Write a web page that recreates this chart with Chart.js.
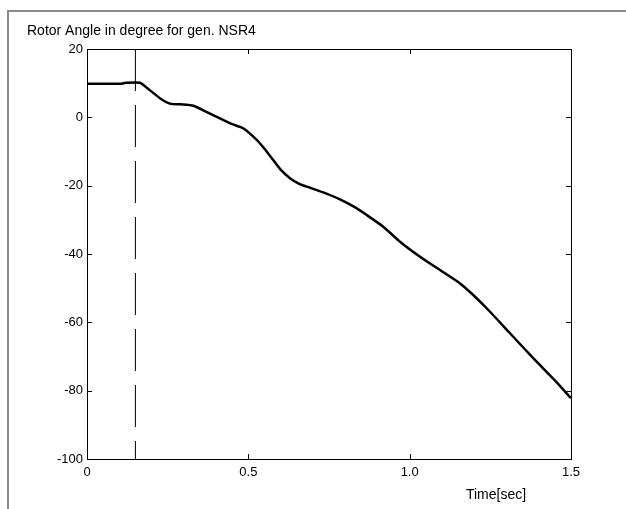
<!DOCTYPE html>
<html>
<head>
<meta charset="utf-8">
<script src="https://cdn.jsdelivr.net/npm/chart.js@4/dist/chart.umd.min.js"></script>
<style>
  html, body { margin: 0; padding: 0; background: #fff; }
  #wrap { position: relative; width: 626px; height: 509px; overflow: hidden; }
  #frame { position: absolute; left: 7px; top: 10px; width: 700px; height: 600px;
           border-left: 2px solid #8a8a8a; border-top: 2px solid #8a8a8a; }
  canvas { position: absolute; left: 0; top: 0; }
</style>
</head>
<body>
<div id="wrap">
  <div id="frame"></div>
  <canvas id="chart-rotor" width="626" height="509"></canvas>
</div>
<script>
// rotor angle
const timeSec = [0, 0.05, 0.10, 0.11, 0.12, 0.164, 0.19, 0.226, 0.257, 0.29, 0.33, 0.37, 0.412, 0.45,
  0.484, 0.526, 0.55, 0.577, 0.60, 0.629, 0.655, 0.681, 0.73, 0.784, 0.83, 0.867, 0.918, 0.97,
  1.032, 1.094, 1.156, 1.197, 1.249, 1.311, 1.383, 1.45, 1.5];
const angleDeg = [9.8, 9.8, 9.8, 9.9, 10.1, 10.1, 8.3, 5.6, 4.0, 3.8, 3.4, 1.6, -0.3, -2.0,
  -3.2, -6.6, -9.2, -12.5, -15.3, -17.8, -19.3, -20.3, -21.9, -24.0, -26.3, -28.6, -32.0, -36.4,
  -40.8, -44.7, -48.6, -52.0, -56.9, -63.2, -70.5, -77.0, -82.2];
const faultTime = 0.15;
const xTicks = [0, 0.5, 1, 1.5];
const yTicks = [-100, -80, -60, -40, -20, 0, 20];

const FONT = 'Liberation Sans, Arial, sans-serif';

const frameAxes = {
	id: 'frameAxes',
	afterDraw(chart){
		const {ctx, chartArea: a, scales} = chart;
		ctx.save();
		ctx.strokeStyle = '#000';
		ctx.lineWidth = 1;
		ctx.strokeRect(a.left + 0.5, a.top + 0.5, a.right - a.left, a.bottom - a.top);
		ctx.beginPath();
		xTicks.forEach(v => {
			const x = Math.round(scales.x.getPixelForValue(v)) + 0.5;
			ctx.moveTo(x, a.bottom); ctx.lineTo(x, a.bottom - 5);
			ctx.moveTo(x, a.top); ctx.lineTo(x, a.top + 5);
		});
		yTicks.forEach(v => {
			const y = Math.round(scales.y.getPixelForValue(v)) + 0.5;
			ctx.moveTo(a.left, y); ctx.lineTo(a.left + 5, y);
			ctx.moveTo(a.right, y); ctx.lineTo(a.right - 5, y);
		});
		ctx.stroke();
		ctx.fillStyle = '#000';
		ctx.font = '14px ' + FONT;
		ctx.textBaseline = 'middle';
		ctx.textAlign = 'left';
		ctx.fillText('Rotor Angle in degree for gen. NSR4', 27, 31);
		ctx.textAlign = 'center';
		ctx.fillText('Time[sec]', 496, 495);
		ctx.restore();
	}
};

const ctx = document.getElementById('chart-rotor').getContext('2d');
const rotorChart = new Chart(ctx, {
	type: 'line',
	data: {
		datasets: [{
			data: timeSec.map((t, i) => ({x: t, y: angleDeg[i]})),
			borderColor: '#000',
			borderWidth: 2.5,
			pointRadius: 0,
			tension: 0.2,
			fill: false
		}, {
			data: [{x: faultTime, y: 20}, {x: faultTime, y: -100}],
			borderColor: '#000',
			borderWidth: 1,
			borderDash: [42, 14],
			pointRadius: 0,
			fill: false
		}]
	},
	options: {
		responsive: false,
		animation: false,
		events: [],
		layout: { padding: { left: 0, top: 49, right: 55, bottom: 0 } },
		plugins: { legend: { display: false }, tooltip: { enabled: false } },
		scales: {
			x: {
				type: 'linear', min: 0, max: 1.5,
				afterFit(s){ s.height = 50; },
				afterBuildTicks(s){ s.ticks = xTicks.map(v => ({value: v})); },
				grid: { display: false, drawTicks: false }, border: { display: false },
				ticks: { color: '#000', padding: 6, font: { family: FONT, size: 13 } }
			},
			y: {
				min: -100, max: 20,
				afterFit(s){ s.width = 87; },
				afterBuildTicks(s){ s.ticks = yTicks.map(v => ({value: v})); },
				grid: { display: false, drawTicks: false }, border: { display: false },
				ticks: { color: '#000', padding: 4, font: { family: FONT, size: 13 } }
			}
		}
	},
	plugins: [frameAxes]
});
</script>
</body>
</html>
